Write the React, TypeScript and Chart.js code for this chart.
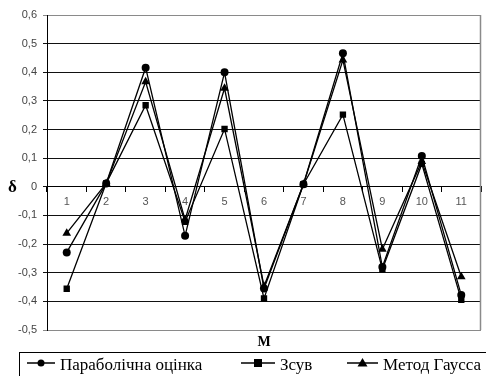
import React, { useEffect, useRef } from "react";
import { Chart, registerables } from "chart.js";

Chart.register(...registerables);

const categories = ["1", "2", "3", "4", "5", "6", "7", "8", "9", "10", "11"];
const parabolic = [-0.229, 0.012, 0.416, -0.171, 0.4, -0.355, 0.009, 0.466, -0.28, 0.108, -0.378];
const shift = [-0.356, 0.012, 0.285, -0.122, 0.202, -0.39, 0.009, 0.252, -0.288, 0.08, -0.395];
const gauss = [-0.162, 0.012, 0.367, -0.115, 0.344, -0.347, 0.009, 0.443, -0.218, 0.088, -0.314];
const seriesLabels = ["Параболічна оцінка", "Зсув", "Метод Гаусса"];
const pointStyles = ["circle", "rect", "triangle"];
const yMin = -0.5;
const yMax = 0.6;

const fmt = (v: number) => {
  const r = Math.round(v * 10) / 10;
  if (r === 0) return "0";
  return r.toFixed(1).replace(".", ",");
};

const extrasPlugin = {
  id: "extras",
  afterDraw(chart: any) {
    const ctx = chart.ctx;
    const ca = chart.chartArea;
    ctx.save();
    // right border of plot area
    ctx.strokeStyle = "#8a8a8a";
    ctx.lineWidth = 1.5;
    ctx.beginPath();
    ctx.moveTo(ca.right - 0.5, ca.top);
    ctx.lineTo(ca.right - 0.5, ca.bottom);
    ctx.stroke();

    // axis titles
    ctx.fillStyle = "#000";
    ctx.font = "bold 17px 'Liberation Serif', serif";
    ctx.textAlign = "left";
    ctx.textBaseline = "middle";
    const y0 = chart.scales.y.getPixelForValue(0);
    ctx.fillText("δ", 8, y0 + 1);
    ctx.font = "bold 14px 'Liberation Serif', serif";
    ctx.textAlign = "center";
    ctx.fillText("M", (ca.left + ca.right) / 2, ca.bottom + 12);

    // legend box
    ctx.strokeStyle = "#000";
    ctx.lineWidth = 1;
    ctx.strokeRect(19.5, 352.5, 480, 40);
    const itemX = [27, 241, 347];
    const lineW = [28, 34, 31];
    const ly = 369;
    ctx.font = "17px 'Liberation Serif', serif";
    ctx.textAlign = "left";
    ctx.textBaseline = "alphabetic";
    chart.data.datasets.forEach((ds: any, i: number) => {
      const x = itemX[i];
      ctx.strokeStyle = "#000";
      ctx.lineWidth = 1.5;
      ctx.beginPath();
      ctx.moveTo(x, ly - 6);
      ctx.lineTo(x + lineW[i], ly - 6);
      ctx.stroke();
      const cx = x + lineW[i] / 2;
      const cy = ly - 6;
      ctx.fillStyle = "#000";
      ctx.beginPath();
      if (ds.pointStyle === "circle") {
        ctx.arc(cx, cy, 3.5, 0, Math.PI * 2);
      } else if (ds.pointStyle === "rect") {
        ctx.rect(cx - 4, cy - 4, 8, 8);
      } else {
        ctx.moveTo(cx, cy - 5);
        ctx.lineTo(cx + 5, cy + 3.5);
        ctx.lineTo(cx - 5, cy + 3.5);
        ctx.closePath();
      }
      ctx.fill();
      ctx.fillStyle = "#000";
      ctx.fillText(ds.label, x + lineW[i] + 5, ly + 1);
    });
    ctx.restore();
  },
};

export default function App() {
  const ref = useRef<HTMLCanvasElement | null>(null);
  useEffect(() => {
    if (!ref.current) return;
    const seriesData = [parabolic, shift, gauss];
    const chart = new Chart(ref.current, {
      type: "line",
      data: {
        labels: categories,
        datasets: seriesData.map((d, i) => ({
          label: seriesLabels[i],
          data: d,
          borderColor: "#000",
          backgroundColor: "#000",
          borderWidth: 1.3,
          pointStyle: pointStyles[i] as any,
          pointRadius: i === 2 ? 5 : i === 1 ? 4.5 : 4,
          pointBackgroundColor: "#000",
          pointBorderColor: "#000",
          pointBorderWidth: 0,
          tension: 0,
          fill: false,
        })),
      },
      options: {
        animation: false,
        responsive: false,
        maintainAspectRatio: false,
        layout: { padding: { top: 15, right: 2, bottom: 46, left: 0 } },
        plugins: {
          legend: { display: false },
          tooltip: { enabled: false },
        },
        scales: {
          x: {
            type: "category",
            position: { y: 0 } as any,
            offset: true,
            grid: {
              display: true,
              offset: true,
              drawOnChartArea: false,
              drawTicks: true,
              tickLength: 5,
              color: "#000",
            },
            border: { display: true, color: "#000", width: 1 },
            ticks: {
              color: "#555",
              font: { family: "'Liberation Sans'", size: 11 },
              padding: 4,
              maxRotation: 0,
            },
          },
          y: {
            min: yMin,
            max: yMax,
            afterFit: (scale: any) => {
              scale.width = 47;
            },
            grid: {
              color: (c: any) => {
                const v = c.tick ? c.tick.value : 0;
                if (Math.abs(v - yMax) < 1e-6 || Math.abs(v - yMin) < 1e-6) return "#8a8a8a";
                return "#111";
              },
              lineWidth: 1,
              drawTicks: true,
              tickLength: 4,
            },
            border: { display: true, color: "#000", width: 1 },
            ticks: {
              stepSize: 0.1,
              color: "#444",
              font: { family: "'Liberation Sans'", size: 11 },
              padding: 6,
              callback: (v: any) => fmt(Number(v)),
            },
          },
        },
      },
      plugins: [extrasPlugin],
    });
    return () => chart.destroy();
  }, []);
  return (
    <div style={{ position: "fixed", left: 0, top: 0, width: 486, height: 376, background: "#fff" }}>
      <canvas ref={ref} width={486} height={376} style={{ width: 486, height: 376 }} />
    </div>
  );
}
